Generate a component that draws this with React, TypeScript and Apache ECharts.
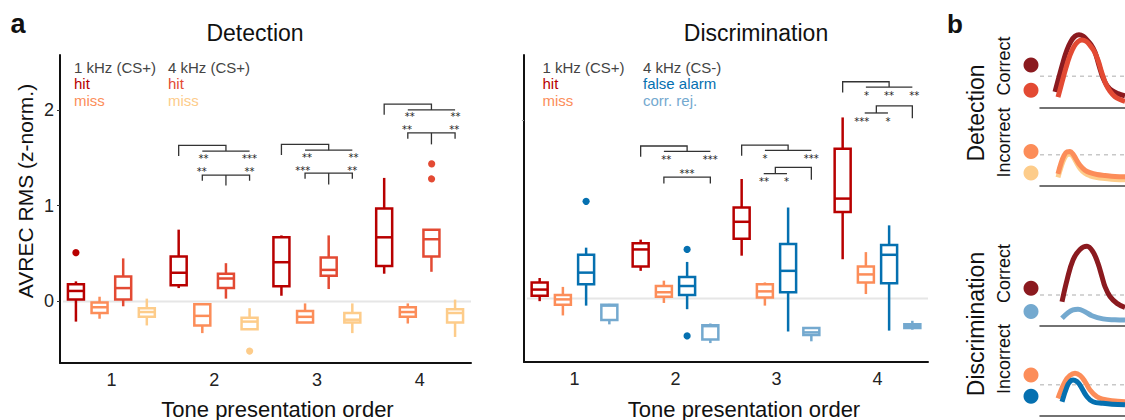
import React, { useEffect, useRef } from 'react';
import * as echarts from 'echarts';

const FONT = '"Liberation Sans", Arial, Helvetica, sans-serif';
const STAR_FONT = '"DejaVu Sans", sans-serif';

// ---------- panel a: categories / ticks ----------
const categories = ['1', '2', '3', '4'];
const yTickValues = [0, 1, 2];
const discTickValues = [2];
const referenceLevel = 0;

// ---------- Detection: [min, Q1, median, Q3, max] per tone position ----------
const detHit1k = [
  [-0.21, 0.02, 0.11, 0.18, 0.21],
  [0.14, 0.17, 0.30, 0.47, 0.75],
  [0.06, 0.16, 0.41, 0.67, 0.69],
  [0.29, 0.37, 0.67, 0.97, 1.29],
];
const detMiss1k = [
  [-0.18, -0.12, -0.06, -0.01, 0.05],
  [-0.33, -0.25, -0.15, -0.03, -0.03],
  [-0.22, -0.22, -0.16, -0.10, -0.02],
  [-0.23, -0.16, -0.11, -0.06, -0.02],
];
const detHit4k = [
  [-0.05, 0.02, 0.14, 0.26, 0.45],
  [0.03, 0.14, 0.24, 0.29, 0.40],
  [0.13, 0.27, 0.33, 0.46, 0.69],
  [0.31, 0.47, 0.65, 0.75, 0.75],
];
const detMiss4k = [
  [-0.25, -0.16, -0.11, -0.07, 0.03],
  [-0.29, -0.29, -0.21, -0.17, -0.07],
  [-0.33, -0.22, -0.19, -0.12, -0.02],
  [-0.37, -0.22, -0.12, -0.08, 0.02],
];
const detHit1kOutliers = [[0, 0.51]];
const detHit4kOutliers = [[3, 1.45], [3, 1.29]];
const detMiss4kOutliers = [[1, -0.51]];

// ---------- Discrimination ----------
const discHit = [
  [-0.03, 0.03, 0.10, 0.18, 0.23],
  [0.31, 0.36, 0.55, 0.62, 0.66],
  [0.48, 0.67, 0.86, 1.02, 1.34],
  [0.44, 0.97, 1.12, 1.68, 2.03],
];
const discMiss = [
  [-0.19, -0.07, -0.01, 0.04, 0.13],
  [-0.05, 0.02, 0.07, 0.14, 0.20],
  [-0.08, 0.01, 0.08, 0.16, 0.18],
  [0.05, 0.18, 0.27, 0.36, 0.52],
];
const discFA = [
  [-0.08, 0.16, 0.29, 0.49, 0.57],
  [-0.12, 0.04, 0.14, 0.24, 0.41],
  [-0.37, 0.07, 0.31, 0.61, 1.02],
  [-0.36, 0.17, 0.49, 0.60, 0.82],
];
const discCR = [
  [-0.29, -0.24, -0.08, -0.07, -0.06],
  [-0.50, -0.46, -0.31, -0.30, -0.28],
  [-0.48, -0.41, -0.38, -0.33, -0.32],
  [-0.35, -0.33, -0.31, -0.29, -0.25],
];
const discFAOutliers = [[0, 1.09], [1, 0.55], [1, -0.42]];

// ---------- significance brackets: polylines of [tone index, box slot, value] ----------
const detBrackets = [
  [[1, 0, 1.52], [1, 0, 1.63], [1, 2, 1.63], [1, 2, 1.57]],
  [[1, 1, 1.57], [1, 3, 1.57]],
  [[1, 1, 1.26], [1, 1, 1.32], [1, 3, 1.32], [1, 3, 1.26]],
  [[1, 2, 1.32], [1, 2, 1.21]],
  [[2, 0, 1.53], [2, 0, 1.64], [2, 2, 1.64], [2, 2, 1.58]],
  [[2, 1, 1.58], [2, 3, 1.58]],
  [[2, 1, 1.28], [2, 1, 1.34], [2, 3, 1.34], [2, 3, 1.28]],
  [[2, 2, 1.34], [2, 2, 1.22]],
  [[3, 0, 1.95], [3, 0, 2.06], [3, 2, 2.06], [3, 2, 2.0]],
  [[3, 1, 2.0], [3, 3, 2.0]],
  [[3, 1, 1.70], [3, 1, 1.76], [3, 3, 1.76], [3, 3, 1.70]],
  [[3, 2, 1.76], [3, 2, 1.64]],
];
const detStars: [number, number, number, string][] = [
  [1, 1.05, 1.51, '**'], [1, 3, 1.51, '***'], [1, 0.98, 1.38, '**'], [1, 3, 1.38, '**'],
  [2, 1.08, 1.52, '**'], [2, 3.05, 1.52, '**'], [2, 0.9, 1.39, '***'], [2, 3, 1.39, '**'],
  [3, 1.08, 1.95, '**'], [3, 3.02, 1.95, '**'], [3, 0.97, 1.82, '**'], [3, 2.96, 1.82, '**'],
];
const discBrackets = [
  [[1, 0, 1.59], [1, 0, 1.71], [1, 2, 1.71], [1, 2, 1.65]],
  [[1, 1, 1.65], [1, 3, 1.65]],
  [[1, 1, 1.29], [1, 1, 1.36], [1, 3, 1.36], [1, 3, 1.29]],
  [[2, 0, 1.60], [2, 0, 1.72], [2, 2, 1.72], [2, 2, 1.66]],
  [[2, 1, 1.66], [2, 3, 1.66]],
  [[2, 1.45, 1.40], [2, 1.45, 1.47], [2, 3, 1.47], [2, 3, 1.33]],
  [[2, 0.95, 1.40], [2, 1.95, 1.40]],
  [[3, 0, 2.31], [3, 0, 2.43], [3, 2, 2.43], [3, 2, 2.37]],
  [[3, 1, 2.37], [3, 3, 2.37]],
  [[3, 1.45, 2.08], [3, 1.45, 2.16], [3, 3, 2.16], [3, 3, 2.02]],
  [[3, 0.95, 2.08], [3, 1.95, 2.08]],
];
const discStars: [number, number, number, string][] = [
  [1, 1.1, 1.58, '**'], [1, 3, 1.58, '***'], [1, 2, 1.42, '***'],
  [2, 1, 1.59, '*'], [2, 3, 1.59, '***'], [2, 0.96, 1.33, '**'], [2, 1.93, 1.33, '*'],
  [3, 1.03, 2.30, '*'], [3, 2, 2.30, '**'], [3, 3.08, 2.30, '**'], [3, 0.82, 2.01, '***'], [3, 1.95, 2.01, '*'],
];

// ---------- panel b: schematic AVREC traces (time, amplitude) ----------
const bBaselineLevel = 1;
const bDetHit1kT = [15, 19, 23, 27, 31, 35, 39, 43, 47, 51, 55, 59, 63, 67, 72, 78, 85];
const bDetHit1kV = [0.50, 0.98, 1.45, 1.85, 2.13, 2.29, 2.34, 2.30, 2.17, 2.02, 1.78, 1.35, 0.95, 0.70, 0.54, 0.44, 0.37];
const bDetHit4kT = [18, 22, 26, 30, 34, 38, 42, 46, 50, 54, 58, 62, 66, 70, 75, 80, 85];
const bDetHit4kV = [0.33, 0.81, 1.28, 1.68, 1.96, 2.12, 2.17, 2.13, 2.0, 1.82, 1.52, 1.10, 0.74, 0.52, 0.34, 0.25, 0.19];
const bDetMiss1kT = [18, 21, 24, 27, 30, 33, 36, 40, 45, 50, 57, 65, 75, 85];
const bDetMiss1kV = [0.38, 0.72, 0.97, 1.09, 1.10, 1.02, 0.86, 0.66, 0.50, 0.42, 0.36, 0.33, 0.30, 0.29];
const bDetMiss4kT = [18, 21, 24, 27, 30, 33, 36, 40, 45, 50, 57, 65, 75, 85];
const bDetMiss4kV = [0.27, 0.60, 0.86, 1.0, 1.02, 0.94, 0.77, 0.56, 0.40, 0.32, 0.26, 0.23, 0.20, 0.19];
const bDiscHitT = [22, 27, 33, 40, 47, 53, 58, 62, 65, 70, 77, 85];
const bDiscHitV = [0.78, 1.48, 2.13, 2.47, 2.57, 2.39, 2.02, 1.59, 1.27, 0.95, 0.73, 0.60];
const bDiscCRT = [22, 28, 33, 38, 45, 52, 63, 75, 85];
const bDiscCRV = [0.25, 0.43, 0.52, 0.54, 0.46, 0.33, 0.23, 0.20, 0.19];
const bDiscMissT = [18, 25, 30, 35, 40, 45, 50, 57, 63, 72, 85];
const bDiscMissV = [0.56, 1.10, 1.30, 1.37, 1.30, 1.10, 0.83, 0.61, 0.53, 0.48, 0.45];
const bDiscFAT = [22, 27, 30, 33, 37, 40, 47, 53, 63, 72, 85];
const bDiscFAV = [0.45, 0.94, 1.10, 1.15, 1.10, 0.99, 0.61, 0.45, 0.40, 0.37, 0.35];

// ---------- styles ----------
const C_HIT1 = '#b80000';
const C_MISS1 = '#fc8d59';
const C_HIT4 = '#e34a33';
const C_MISS4 = '#fdcc8a';
const C_FA = '#0570b0';
const C_CR = '#74a9cf';
const C_DARK = '#8b1a1f';

const SLOT_STEP = 0.23;
const BOX_W = 16;
const LW = 2.5;

function slotOffset(api: any, slot: number) {
  return (slot - 1.5) * SLOT_STEP * api.size([1, 0])[0];
}

function boxSeries(rows: number[][], slot: number, color: string, gi: number) {
  return {
    type: 'custom',
    xAxisIndex: gi,
    yAxisIndex: gi,
    z: 3,
    silent: true,
    data: rows.map((r, i) => [i, ...r]),
    encode: { x: 0, y: [1, 2, 3, 4, 5] },
    renderItem: (params: any, api: any) => {
      const cat = api.value(0);
      const x = api.coord([cat, 0])[0] + slotOffset(api, slot);
      const ys = [1, 2, 3, 4, 5].map((d) => api.coord([cat, api.value(d)])[1]);
      const [yMin, yQ1, yMed, yQ3, yMax] = ys;
      const st = { stroke: color, lineWidth: LW, fill: 'none' };
      const h = BOX_W / 2;
      return {
        type: 'group',
        children: [
          { type: 'line', shape: { x1: x, y1: yMax, x2: x, y2: yQ3 }, style: st },
          { type: 'line', shape: { x1: x, y1: yQ1, x2: x, y2: yMin }, style: st },
          { type: 'rect', shape: { x: x - h, y: yQ3, width: BOX_W, height: yQ1 - yQ3 }, style: { stroke: color, lineWidth: LW, fill: '#ffffff' } },
          { type: 'line', shape: { x1: x - h, y1: yMed, x2: x + h, y2: yMed }, style: st },
        ],
      };
    },
  };
}

function outlierSeries(points: number[][], slot: number, color: string, gi: number) {
  return {
    type: 'custom',
    xAxisIndex: gi,
    yAxisIndex: gi,
    z: 4,
    silent: true,
    data: points,
    encode: { x: 0, y: 1 },
    renderItem: (params: any, api: any) => {
      const cat = api.value(0);
      const p = api.coord([cat, api.value(1)]);
      return { type: 'circle', shape: { cx: p[0] + slotOffset(api, slot), cy: p[1], r: 3.6 }, style: { fill: color } };
    },
  };
}

function bracketSeries(brackets: number[][][], gi: number) {
  return {
    type: 'custom',
    xAxisIndex: gi,
    yAxisIndex: gi,
    z: 5,
    silent: true,
    data: brackets.map((b) => [b[0][0], b[0][2]]),
    encode: { x: 0, y: 1 },
    renderItem: (params: any, api: any) => {
      const pts = brackets[params.dataIndex].map(([g, s, v]) => {
        const p = api.coord([g, v]);
        return [p[0] + slotOffset(api, s), p[1]];
      });
      return { type: 'polyline', shape: { points: pts }, style: { stroke: '#333', lineWidth: 1.3, fill: 'none' } };
    },
  };
}

function starSeries(stars: [number, number, number, string][], gi: number) {
  return {
    type: 'custom',
    xAxisIndex: gi,
    yAxisIndex: gi,
    z: 5,
    silent: true,
    data: stars.map((s) => [s[0], s[2]]),
    encode: { x: 0, y: 1 },
    renderItem: (params: any, api: any) => {
      const [g, s, v, label] = stars[params.dataIndex];
      const p = api.coord([g, v]);
      return {
        type: 'text',
        x: p[0] + slotOffset(api, s),
        y: p[1] + 2,
        style: {
          text: label, fill: '#222', font: `10px ${STAR_FONT}`, lineHeight: 8,
          align: 'center', verticalAlign: 'middle', textAlign: 'center', textVerticalAlign: 'middle',
        },
      };
    },
  };
}

function refLineSeries(gi: number, level: number, style: any, inset: number) {
  return {
    type: 'custom',
    xAxisIndex: gi,
    yAxisIndex: gi,
    z: 1,
    silent: true,
    data: [[0, level]],
    encode: { x: 0, y: 1 },
    renderItem: (params: any, api: any) => {
      const cs = params.coordSys;
      const y = api.coord([api.value(0), api.value(1)])[1];
      return { type: 'line', shape: { x1: cs.x + inset, y1: y, x2: cs.x + cs.width, y2: y }, style };
    },
  };
}

function curve(gi: number, t: number[], v: number[], color: string, z: number) {
  return {
    type: 'line',
    xAxisIndex: gi,
    yAxisIndex: gi,
    data: t.map((x, i) => [x, v[i]]),
    showSymbol: false,
    symbol: 'none',
    smooth: 0.4,
    silent: true,
    lineStyle: { width: 5, color },
    z,
  };
}

function txt(text: string, x: number, y: number, size: number, fill: string, opts: any = {}) {
  return {
    type: 'text',
    x,
    y,
    rotation: opts.rotation || 0,
    silent: true,
    style: {
      text,
      fill,
      font: `${opts.bold ? 'bold ' : ''}${size}px ${FONT}`,
      align: opts.align || 'center',
      textAlign: opts.align || 'center',
      verticalAlign: 'middle',
      textVerticalAlign: 'middle',
    },
  };
}

function buildOption() {
  const catAxis = (gi: number) => ({
    type: 'category',
    gridIndex: gi,
    data: categories,
    boundaryGap: true,
    axisLine: { show: true, onZero: false, lineStyle: { color: '#111', width: 2 } },
    axisTick: { show: false },
    axisLabel: { fontSize: 18, color: '#222', fontFamily: FONT, margin: 8 },
    splitLine: { show: false },
  });
  const bX = (gi: number) => ({
    type: 'value', gridIndex: gi, min: 0, max: 85,
    axisLine: { show: true, onZero: false, lineStyle: { color: '#444', width: 1.5 } },
    axisTick: { show: false }, axisLabel: { show: false }, splitLine: { show: false },
  });
  const bY = (gi: number) => ({ type: 'value', gridIndex: gi, min: 0, max: 3, show: false });
  const dashStyle = { stroke: '#c8c8c8', lineWidth: 1.5, lineDash: [4, 4] };
  const zeroStyle = { stroke: '#e6e6e6', lineWidth: 2 };

  const legendLeft = (x1: number, x2: number, right: [string, string][]) => [
    txt('1 kHz (CS+)', x1, 67, 15, '#444', { align: 'left' }),
    txt('hit', x1, 83.5, 15, C_HIT1, { align: 'left' }),
    txt('miss', x1, 100, 15, C_MISS1, { align: 'left' }),
    ...right.map(([t, c], i) => txt(t, x2, 67 + i * 16.5, 15, c, { align: 'left' })),
  ];

  return {
    animation: false,
    backgroundColor: '#ffffff',
    grid: [
      { left: 60, top: 55, width: 411, height: 308 },
      { left: 524, top: 55, width: 404, height: 307 },
      { left: 1040, top: 14.3, width: 85, height: 93 },
      { left: 1040, top: 92.7, width: 85, height: 93 },
      { left: 1040, top: 233, width: 85, height: 93 },
      { left: 1040, top: 322.7, width: 85, height: 93 },
    ],
    xAxis: [catAxis(0), catAxis(1), bX(2), bX(3), bX(4), bX(5)],
    yAxis: [
      {
        type: 'value', gridIndex: 0, min: -0.642, max: 2.573,
        axisLine: { show: true, lineStyle: { color: '#111', width: 2 } },
        axisTick: { show: true, customValues: yTickValues, length: 3, lineStyle: { color: '#333', width: 1 } },
        axisLabel: { show: true, customValues: yTickValues, fontSize: 18, color: '#222', fontFamily: FONT, margin: 6 },
        splitLine: { show: false },
      },
      {
        type: 'value', gridIndex: 1, min: -0.712, max: 2.73,
        axisLine: { show: true, lineStyle: { color: '#111', width: 2 } },
        axisTick: { show: true, customValues: discTickValues, length: 2, lineStyle: { color: '#999', width: 1 } },
        axisLabel: { show: false },
        splitLine: { show: false },
      },
      bY(2), bY(3), bY(4), bY(5),
    ],
    series: [
      refLineSeries(0, referenceLevel, zeroStyle, 3),
      refLineSeries(1, referenceLevel, zeroStyle, 3),
      boxSeries(detHit1k, 0, C_HIT1, 0),
      boxSeries(detMiss1k, 1, C_MISS1, 0),
      boxSeries(detHit4k, 2, C_HIT4, 0),
      boxSeries(detMiss4k, 3, C_MISS4, 0),
      outlierSeries(detHit1kOutliers, 0, C_HIT1, 0),
      outlierSeries(detHit4kOutliers, 2, C_HIT4, 0),
      outlierSeries(detMiss4kOutliers, 3, C_MISS4, 0),
      bracketSeries(detBrackets, 0),
      starSeries(detStars, 0),
      boxSeries(discHit, 0, C_HIT1, 1),
      boxSeries(discMiss, 1, C_MISS1, 1),
      boxSeries(discFA, 2, C_FA, 1),
      boxSeries(discCR, 3, C_CR, 1),
      outlierSeries(discFAOutliers, 2, C_FA, 1),
      bracketSeries(discBrackets, 1),
      starSeries(discStars, 1),
      refLineSeries(2, bBaselineLevel, dashStyle, 0),
      refLineSeries(3, bBaselineLevel, dashStyle, 0),
      refLineSeries(4, bBaselineLevel, dashStyle, 0),
      refLineSeries(5, bBaselineLevel, dashStyle, 0),
      curve(2, bDetHit4kT, bDetHit4kV, C_HIT4, 3),
      curve(2, bDetHit1kT, bDetHit1kV, C_DARK, 2),
      curve(3, bDetMiss4kT, bDetMiss4kV, C_MISS4, 2),
      curve(3, bDetMiss1kT, bDetMiss1kV, C_MISS1, 3),
      curve(4, bDiscCRT, bDiscCRV, C_CR, 2),
      curve(4, bDiscHitT, bDiscHitV, C_DARK, 3),
      curve(5, bDiscMissT, bDiscMissV, C_MISS1, 2),
      curve(5, bDiscFAT, bDiscFAV, C_FA, 3),
    ],
    graphic: [
      txt('a', 18, 24, 27, '#111', { bold: true }),
      txt('b', 955, 24, 26, '#111', { bold: true }),
      txt('Detection', 255, 33, 23, '#111'),
      txt('Discrimination', 756, 33, 23, '#111'),
      txt('AVREC RMS (z-norm.)', 25, 191, 21, '#111', { rotation: Math.PI / 2 }),
      txt('Tone presentation order', 277.5, 409, 22, '#111'),
      txt('Tone presentation order', 744, 409, 22, '#111'),
      ...legendLeft(74, 168, [['4 kHz (CS+)', '#444'], ['hit', C_HIT4], ['miss', C_MISS4]]),
      ...legendLeft(542.5, 643, [['4 kHz (CS-)', '#444'], ['false alarm', C_FA], ['corr. rej.', C_CR]]),
      txt('Detection', 976, 113, 23, '#111', { rotation: Math.PI / 2 }),
      txt('Discrimination', 976, 324, 23, '#111', { rotation: Math.PI / 2 }),
      txt('Correct', 1004, 66, 18, '#111', { rotation: Math.PI / 2 }),
      txt('Incorrect', 1004, 142.5, 18, '#111', { rotation: Math.PI / 2 }),
      txt('Correct', 1004, 273.5, 18, '#111', { rotation: Math.PI / 2 }),
      txt('Incorrect', 1004, 359, 18, '#111', { rotation: Math.PI / 2 }),
      { type: 'circle', shape: { cx: 1031, cy: 65, r: 7.5 }, style: { fill: C_DARK } },
      { type: 'circle', shape: { cx: 1031, cy: 90.3, r: 7.5 }, style: { fill: C_HIT4 } },
      { type: 'circle', shape: { cx: 1031, cy: 151.5, r: 7.5 }, style: { fill: C_MISS1 } },
      { type: 'circle', shape: { cx: 1031, cy: 173, r: 7.5 }, style: { fill: C_MISS4 } },
      { type: 'circle', shape: { cx: 1031, cy: 288.3, r: 7.5 }, style: { fill: C_DARK } },
      { type: 'circle', shape: { cx: 1031, cy: 311.5, r: 7.5 }, style: { fill: C_CR } },
      { type: 'circle', shape: { cx: 1031, cy: 375, r: 7.5 }, style: { fill: C_MISS1 } },
      { type: 'circle', shape: { cx: 1031, cy: 396.3, r: 7.5 }, style: { fill: C_FA } },
    ],
  };
}

export default function App() {
  const ref = useRef<HTMLDivElement>(null);
  useEffect(() => {
    if (!ref.current) return;
    const chart = echarts.init(ref.current, null, { renderer: 'svg' });
    chart.setOption(buildOption() as any);
    return () => chart.dispose();
  }, []);
  return (
    <div
      ref={ref}
      style={{ position: 'absolute', left: 0, top: 0, width: 1125, height: 420, background: '#fff' }}
    />
  );
}
